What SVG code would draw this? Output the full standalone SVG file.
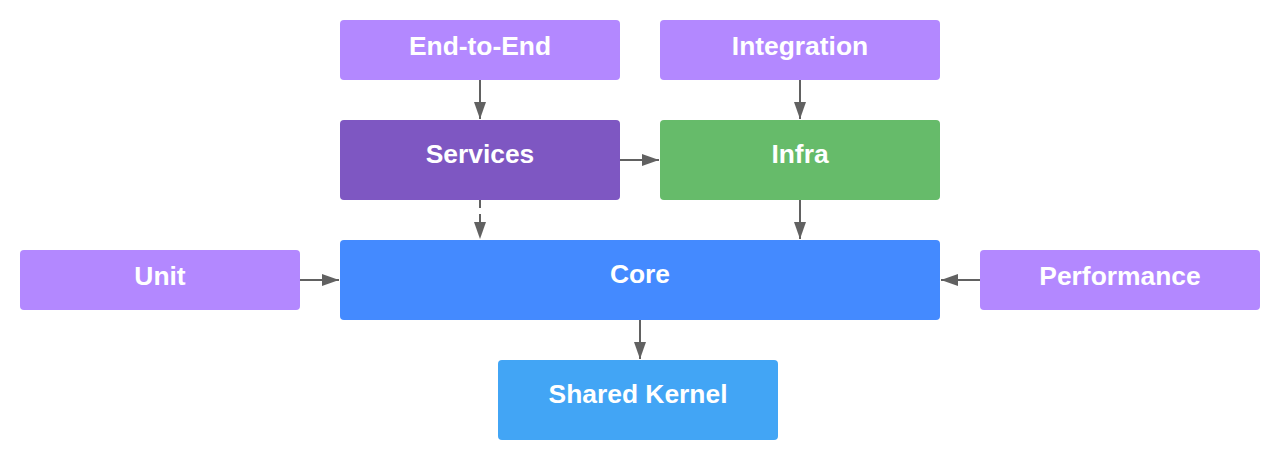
<svg xmlns="http://www.w3.org/2000/svg" width="1280" height="460" viewBox="0 0 1280 460">
<style>
.t{font-family:"Liberation Sans",Arial,sans-serif;font-weight:bold;font-size:26.4px;fill:#ffffff;text-anchor:middle}
.c{stroke:#616161;stroke-width:2;fill:none;marker-end:url(#ah)}
.d{stroke-dasharray:8,6}
</style>
<defs>
<marker id="ah" markerUnits="userSpaceOnUse" markerWidth="18" markerHeight="12" refX="17" refY="6" orient="auto">
<path d="M0,0 L17,6 L0,12 z" fill="#616161"/>
</marker>
</defs>
<rect width="1280" height="460" fill="#ffffff"/>
<g id="connectors">
<line class="c" x1="480" y1="80" x2="480" y2="119"/>
<line class="c" x1="800" y1="80" x2="800" y2="119"/>
<line class="c" x1="620" y1="160" x2="659" y2="160"/>
<line class="c d" x1="480" y1="200" x2="480" y2="239"/>
<line class="c" x1="800" y1="200" x2="800" y2="239"/>
<line class="c" x1="300" y1="280" x2="339" y2="280"/>
<line class="c" x1="980" y1="280" x2="941" y2="280"/>
<line class="c" x1="640" y1="320" x2="640" y2="359"/>
</g>
<g id="e2e"><rect x="340" y="20" width="280" height="60" rx="4" fill="#b388ff"/><text class="t" x="480" y="55">End-to-End</text></g>
<g id="integration"><rect x="660" y="20" width="280" height="60" rx="4" fill="#b388ff"/><text class="t" x="800" y="55">Integration</text></g>
<g id="services"><rect x="340" y="120" width="280" height="80" rx="4" fill="#7e57c2"/><text class="t" x="480" y="163">Services</text></g>
<g id="infra"><rect x="660" y="120" width="280" height="80" rx="4" fill="#66bb6a"/><text class="t" x="800" y="163">Infra</text></g>
<g id="unit"><rect x="20" y="250" width="280" height="60" rx="4" fill="#b388ff"/><text class="t" x="160" y="285">Unit</text></g>
<g id="core"><rect x="340" y="240" width="600" height="80" rx="4" fill="#448aff"/><text class="t" x="640" y="283">Core</text></g>
<g id="performance"><rect x="980" y="250" width="280" height="60" rx="4" fill="#b388ff"/><text class="t" x="1120" y="285">Performance</text></g>
<g id="shared"><rect x="498" y="360" width="280" height="80" rx="4" fill="#42a5f5"/><text class="t" x="638" y="403">Shared Kernel</text></g>
</svg>
